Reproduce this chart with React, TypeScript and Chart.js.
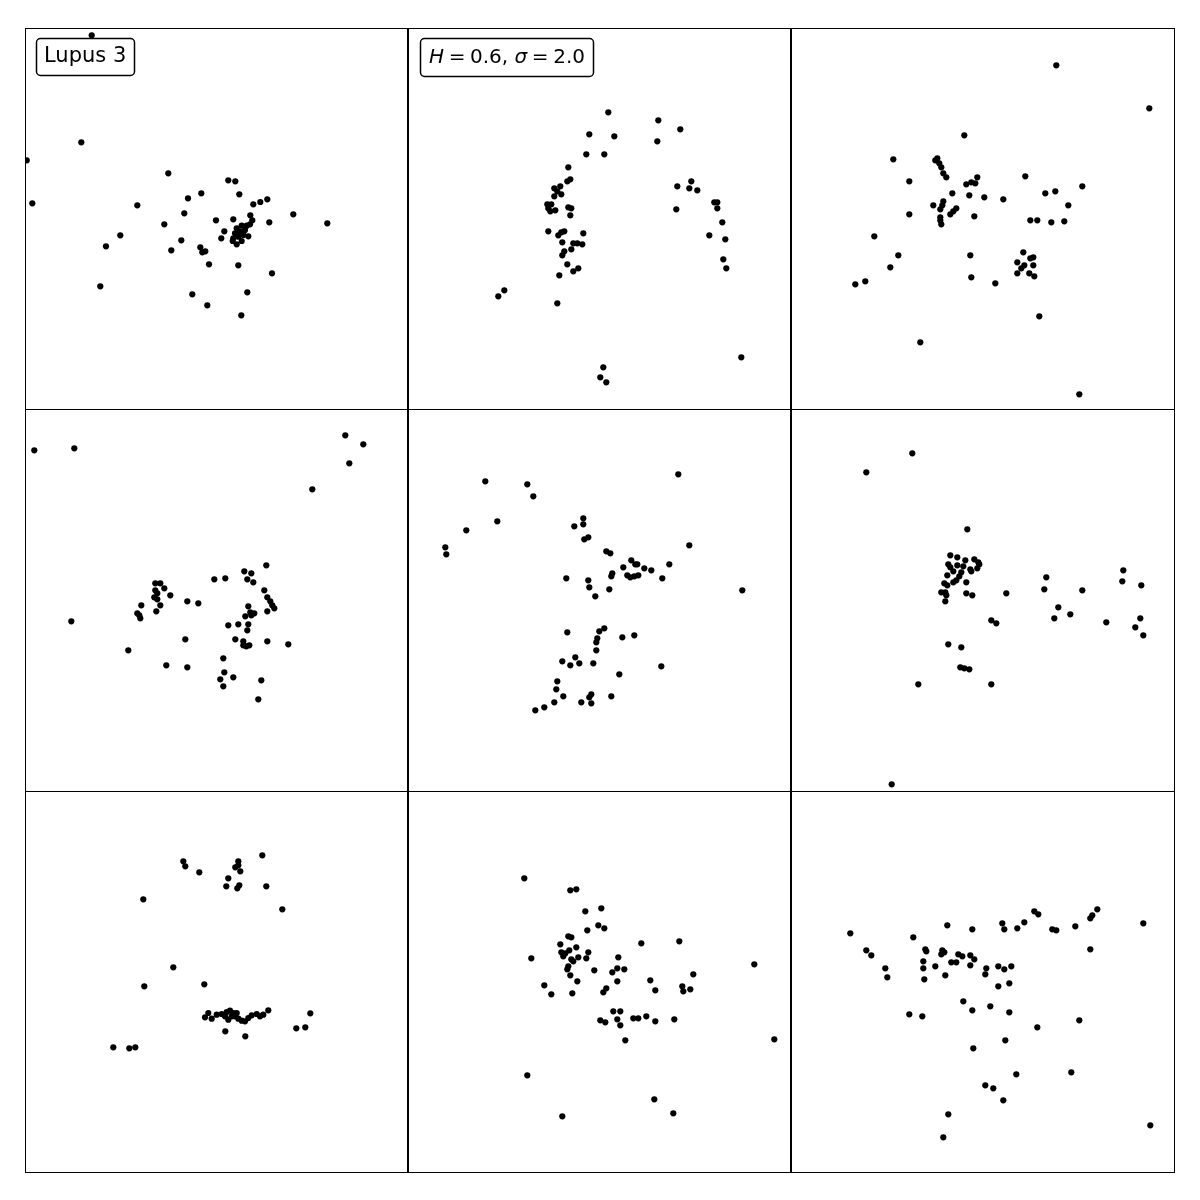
import React, { useEffect, useRef } from "react";
import { Chart, registerables } from "chart.js";

Chart.register(...registerables);

// Panel-local coordinates (x from panel left, y from panel top)
const lupus3: number[][] = [
  [66.7, 7.3], [56.3, 114.3], [1.7, 132.3], [7.3, 175.3], [143.3, 145.3], [203.3, 152.3], [210.3, 153.3],
  [176.3, 165.3], [214.3, 166.3], [163, 170.3], [242.3, 171.3], [235.3, 174], [228.3, 176.3], [112.3, 177.3],
  [159.3, 185.3], [268.3, 186.3], [225.3, 187.3], [191, 192.3], [208.3, 191.3], [227.3, 192.3], [244.3, 194.3],
  [302.3, 195.3], [139.3, 196.3], [199.3, 203.3], [95.3, 207.3], [196.3, 210.3], [156.3, 212.3], [223.3, 208.3],
  [81, 218.3], [175.3, 219.3], [180.3, 223.3], [177.3, 224.3], [146.3, 222.3], [184, 236.3], [213.3, 237.3],
  [247, 245.3], [75.3, 258.3], [167.3, 266.3], [222.3, 264.3], [182.3, 277.3], [216.3, 287.3],
  [211.7, 200.3], [216.7, 197.7], [221.7, 197.7], [225, 196.3], [210, 205.3], [215, 203.7], [220, 202],
  [208.3, 210.3], [213.3, 208.7], [218.3, 207], [207.7, 213], [211.7, 216.3], [216.7, 213],
];

const sim1: number[][] = [
  [200.3, 84.3], [250.3, 92.3], [272.3, 101.3], [181.3, 106.3], [206.3, 108.3], [249.3, 113.3], [178.3, 126.3],
  [196.3, 126.3], [160.3, 139.3], [162.3, 151.3], [159.3, 153.3], [269.3, 158.3], [283.3, 153.3], [281.3, 160.3],
  [289.3, 162.3], [146.3, 160.3], [152.3, 158.3], [149.3, 163.3], [153.3, 166.3], [146.3, 168.3], [139.3, 176.3],
  [143.3, 176.3], [140.3, 180.3], [142.3, 183.3], [147.3, 182.3], [160.3, 179.3], [163.3, 180.3], [162.3, 187.3],
  [268.3, 181.3], [306.3, 174.3], [309.3, 174.3], [309.3, 180.3], [314.3, 194.3], [301.3, 207.3], [317.3, 211.3],
  [140.3, 203.3], [150.3, 207.3], [153.3, 204.3], [156.3, 203.3], [175.3, 205.3], [154.3, 214.3], [165.3, 215.3],
  [169.3, 215.3], [174.3, 216.3], [163.3, 221.3], [156.3, 223.3], [154.3, 227.3], [159.3, 236.3], [165.3, 243.3],
  [170.3, 240.3], [151.3, 247.3], [315.3, 231.3], [318.3, 240.3], [96.3, 262.3], [90.3, 268.3], [149.3, 275.3],
  [333.3, 329.3], [195.3, 339.3], [192.3, 349.3], [198.3, 354.3],
];

const sim2: number[][] = [
  [265.3, 37.3], [358.3, 80.3], [173.3, 107.3], [102.3, 131.3], [144.3, 132.3], [146.3, 130.3], [148.3, 135.3],
  [150.3, 139.3], [152.3, 145.3], [155.3, 149.3], [186.3, 149.3], [234.3, 148.3], [118.3, 153.3], [175.3, 156.3],
  [180.3, 154.3], [184.3, 155.3], [291.3, 158.3], [161.3, 165.3], [178.3, 167.3], [254.3, 165.3], [264.3, 163.3],
  [193.3, 169.3], [212.3, 171.3], [152.3, 173.3], [142.3, 177.3], [151.3, 177.3], [149.3, 181.3], [165.3, 180.3],
  [162.3, 183.3], [159.3, 186.3], [277.3, 177.3], [118.3, 186.3], [183.3, 188.3], [149.3, 189.3], [149.3, 192.3],
  [150.3, 196.3], [239.3, 192.3], [246.3, 192.3], [260.3, 194.3], [273.3, 193.3], [83.3, 208.3], [232.3, 224.3],
  [239.3, 230.3], [242.3, 229.3], [107.3, 227.3], [179.3, 227.3], [226.3, 234.3], [233.3, 237.3], [230.3, 240.3],
  [242.3, 237.3], [99.3, 239.3], [226.3, 245.3], [238.3, 245.3], [243.3, 248.3], [180.3, 249.3], [74.3, 253.3],
  [64.3, 256.3], [204.3, 255.3], [248.3, 288.3], [129.3, 314.3], [288.3, 366.3],
];

const sim3: number[][] = [
  [9.3, 41.3], [49.3, 39.3], [320.3, 26.3], [338.3, 35.3], [324.3, 54.3], [287.3, 80.3], [241.3, 156.3],
  [219.3, 162.3], [226.3, 164.3], [222.3, 170.3], [228.3, 173.3], [189.3, 170.3], [200.3, 169.3], [130.3, 174.3],
  [135.3, 174.3], [139.3, 179.3], [130.3, 181.3], [132.3, 184.3], [145.3, 186.3], [129.3, 188.3], [132.3, 190.3],
  [239.3, 181.3], [242.3, 188.3], [245.3, 192.3], [247.3, 196.3], [249.3, 199.3], [162.3, 192.3], [173.3, 194.3],
  [116.3, 196.3], [135.3, 196.3], [223.3, 197.3], [112.3, 204.3], [114.3, 206.3], [115.3, 209.3], [131.3, 202.3],
  [225.3, 203.3], [229.3, 204.3], [226.3, 206.3], [242.3, 202.3], [220.3, 207.3], [46.3, 212.3], [203.3, 216.3],
  [213.3, 215.3], [223.3, 215.3], [222.3, 221.3], [160.3, 230.3], [210.3, 230.3], [218.3, 232.3], [218.3, 236.3],
  [221.3, 237.3], [224.3, 236.3], [242.3, 232.3], [263.3, 235.3], [103.3, 241.3], [198.3, 249.3], [141.3, 256.3],
  [162.3, 258.3], [199.3, 263.3], [208.3, 268.3], [195.3, 270.3], [236.3, 271.3], [198.3, 277.3], [233.3, 290.3],
];

const sim4: number[][] = [
  [77.3, 72.3], [119.3, 75.3], [125.3, 87.3], [270.3, 65.3], [89.3, 112.3], [58.3, 121.3], [37.3, 138.3],
  [38.3, 145.3], [175.3, 109.3], [175.3, 115.3], [166.3, 117.3], [176.3, 130.3], [180.3, 128.3], [281.3, 136.3],
  [198.3, 142.3], [202.3, 144.3], [223.3, 151.3], [227.3, 155.3], [229.3, 155.3], [215.3, 158.3], [236.3, 159.3],
  [243.3, 161.3], [261.3, 155.3], [204.3, 164.3], [203.3, 167.3], [219.3, 166.3], [222.3, 168.3], [226.3, 167.3],
  [230.3, 166.3], [254.3, 169.3], [158.3, 169.3], [180.3, 171.3], [181.3, 178.3], [201.3, 180.3], [187.3, 187.3],
  [334.3, 181.3], [159.3, 223.3], [191.3, 222.3], [196.3, 219.3], [189.3, 229.3], [188.3, 233.3], [188.3, 241.3],
  [214.3, 228.3], [226.3, 226.3], [167.3, 248.3], [154.3, 252.3], [162.3, 256.3], [171.3, 254.3], [185.3, 254.3],
  [253.3, 257.3], [211.3, 265.3], [149.3, 272.3], [148.3, 280.3], [155.3, 287.3], [183.3, 285.3], [181.3, 288.3],
  [203.3, 287.3], [146.3, 293.3], [173.3, 293.3], [183.3, 294.3], [136.3, 298.3], [127.3, 301.3],
];

const sim5: number[][] = [
  [121.3, 44.3], [75.3, 63.3], [176.3, 120.3], [100.7, 375.3],
  [159.3, 146.3], [166.3, 148.3], [174.3, 151.3], [183.3, 150.3], [187.3, 153.3], [188.3, 155.3], [186.3, 159.3],
  [157.3, 155.3], [166.3, 156.3], [159.3, 158.3], [172.3, 157.3], [179.3, 160.3], [180.3, 162.3], [162.3, 162.3],
  [170.3, 163.3], [156.3, 166.3], [168.3, 167.3], [165.3, 171.3], [162.3, 173.3], [175.3, 173.3], [153.3, 174.3],
  [156.3, 176.3], [150.3, 183.3], [154.3, 183.3], [155.3, 186.3], [175.3, 184.3], [181.3, 186.3], [154.3, 192.3],
  [215.3, 184.3], [255.3, 168.3], [253.3, 180.3], [291.3, 181.3], [332.3, 161.3], [331.3, 172.3], [350.3, 176.3],
  [267.3, 198.3], [263.3, 209.3], [279.3, 205.3], [200.3, 211.3], [205.3, 214.3], [315.3, 213.3], [349.3, 209.3],
  [344.3, 218.3], [352.3, 226.3], [157.3, 235.3], [170.3, 238.3], [169.3, 258.3], [173.3, 259.3], [178.3, 260.3],
  [127.3, 275.3], [200.3, 275.3],
];

const sim6: number[][] = [
  [158.3, 70.3], [160.3, 75.3], [174.3, 81.3], [213.3, 70.3], [210.3, 76.3], [213.3, 74.3], [215.3, 80.3],
  [237.3, 64.3], [203.3, 87.3], [201.3, 95.3], [212.3, 97.3], [214.3, 94.3], [241.3, 95.3], [118.3, 108.3],
  [257.3, 118.3], [148.3, 176.3], [119.3, 195.3], [179.3, 193.3], [243.3, 219.3], [285.3, 222.3], [271.3, 237.3],
  [280.3, 236.3], [200.3, 240.3], [220.3, 245.3], [88.3, 256.3], [104.3, 257.3], [110.3, 256.3],
  [183.3, 222], [180, 226.3], [186.7, 227.7], [191.7, 223.7], [196.7, 223], [201.7, 221], [205, 219.7],
  [208.3, 222], [211.7, 222], [200, 225.3], [203.3, 228.7], [206.7, 225.3], [210, 225.3], [213.3, 227.7],
  [216.7, 229.7], [220, 230.3], [223.3, 227], [226.7, 224.3], [231.7, 223], [235, 225.3], [238.3, 223.7],
];

const sim7: number[][] = [
  [116.3, 87.3], [162.3, 99.3], [168.3, 98.3], [177.3, 120.3], [193.3, 117.3], [190.3, 134.3], [196.3, 137.3],
  [179.3, 139.3], [160.3, 145.3], [163.3, 146.3], [152.3, 153.3], [168.3, 156.3], [153.3, 161.3], [157.3, 162.3],
  [161.3, 159.3], [155.3, 165.3], [170.3, 166.3], [180.3, 161.3], [178.3, 167.3], [163.3, 168.3], [165.3, 170.3],
  [123.3, 167.3], [210.3, 166.3], [233.3, 152.3], [271.3, 150.3], [160.3, 175.3], [159.3, 178.3], [186.3, 179.3],
  [204.3, 181.3], [209.3, 177.3], [216.3, 178.3], [162.3, 184.3], [169.3, 190.3], [209.3, 190.3], [242.3, 189.3],
  [285.3, 183.3], [346.3, 173.3], [136.3, 194.3], [143.3, 203.3], [164.3, 202.3], [195.3, 201.3], [198.3, 197.3],
  [247.3, 199.3], [274.3, 195.3], [275.3, 200.3], [282.3, 198.3], [205.3, 220.3], [212.3, 220.3], [192.3, 229.3],
  [197.3, 231.3], [209.3, 228.3], [212.3, 234.3], [225.3, 227.3], [230.3, 227.3], [238.3, 225.3], [247.3, 230.3],
  [266.3, 228.3], [217.3, 249.3], [366.3, 248.3], [119.3, 284.3], [246.3, 308.3], [265.3, 322.3], [154.3, 325.3],
];

const sim8: number[][] = [
  [59.3, 142.3], [122.3, 146.3], [156.3, 134.3], [181.3, 138.3], [211.3, 132.3], [213.3, 138.3], [226.3, 137.3],
  [233.3, 131.3], [243.3, 120.3], [247.3, 123.3], [261.3, 138.3], [265.3, 139.3], [284.3, 135.3], [299.3, 127.3],
  [301.3, 124.3], [306.3, 118.3], [352.3, 132.3], [299.3, 158.3], [75.3, 159.3], [80.3, 164.3], [134.3, 158.3],
  [135.3, 160.3], [151.3, 159.3], [153.3, 161.3], [150.3, 163.3], [167.3, 163.3], [171.3, 165.3], [179.3, 164.3],
  [183.3, 168.3], [160.3, 171.3], [165.3, 171.3], [132.3, 170.3], [144.3, 175.3], [179.3, 174.3], [94.3, 177.3],
  [132.3, 177.3], [195.3, 177.3], [207.3, 175.3], [213.3, 178.3], [220.3, 175.3], [194.3, 183.3], [154.3, 184.3],
  [96.3, 186.3], [133.3, 188.3], [207.3, 195.3], [218.3, 192.3], [172.3, 210.3], [199.3, 215.3], [181.3, 219.3],
  [218.3, 221.3], [118.3, 223.3], [131.3, 225.3], [288.3, 229.3], [246.3, 236.3], [214.3, 249.3], [182.3, 257.3],
  [225.3, 283.3], [280.3, 281.3], [194.3, 294.3], [202.3, 297.3], [212.3, 309.3], [157.3, 323.3], [152.3, 346.3],
  [359.3, 334.3],
];

const panelData = [lupus3, sim1, sim2, sim3, sim4, sim5, sim6, sim7, sim8];

const colLefts = [25, 408, 791];
const colRights = [407, 790, 1174];
const rowTops = [28, 409, 791];
const rowBottoms = [409, 791, 1172];

const FONT = '"DejaVu Sans", "Liberation Sans", sans-serif';

function roundRect(ctx: CanvasRenderingContext2D, x: number, y: number, w: number, h: number, r: number) {
  ctx.beginPath();
  ctx.moveTo(x + r, y);
  ctx.lineTo(x + w - r, y);
  ctx.arcTo(x + w, y, x + w, y + r, r);
  ctx.lineTo(x + w, y + h - r);
  ctx.arcTo(x + w, y + h, x + w - r, y + h, r);
  ctx.lineTo(x + r, y + h);
  ctx.arcTo(x, y + h, x, y + h - r, r);
  ctx.lineTo(x, y + r);
  ctx.arcTo(x, y, x + r, y, r);
  ctx.closePath();
}

function makeLabelPlugin(kind: number) {
  return {
    id: "labelBox" + kind,
    afterDraw(chart: any) {
      const ctx = chart.ctx as CanvasRenderingContext2D;
      const w = chart.width;
      const h = chart.height;
      ctx.save();
      ctx.strokeStyle = "#000";
      ctx.lineWidth = 1;
      ctx.strokeRect(0.5, 0.5, w - 1, h - 1);
      if (kind === 1) {
        ctx.fillStyle = "#fff";
        roundRect(ctx, 11.5, 10.5, 98, 37, 4);
        ctx.fill();
        ctx.lineWidth = 1.5;
        ctx.stroke();
        ctx.fillStyle = "#000";
        ctx.font = "21px " + FONT;
        ctx.textBaseline = "middle";
        ctx.textAlign = "left";
        ctx.fillText("Lupus 3", 19, 29);
      } else if (kind === 2) {
        ctx.fillStyle = "#fff";
        roundRect(ctx, 12.5, 10.5, 173, 38, 4);
        ctx.fill();
        ctx.lineWidth = 1.5;
        ctx.stroke();
        ctx.fillStyle = "#000";
        ctx.textBaseline = "middle";
        ctx.textAlign = "left";
        const ital = "italic 20px " + FONT;
        const reg = "20px " + FONT;
        const parts: [string, string][] = [
          ["H", ital], ["=", reg], ["0.6,", reg], ["σ", ital], ["=", reg], ["2.0", reg],
        ];
        const widths = parts.map(([t, f]) => { ctx.font = f; return ctx.measureText(t).width; });
        const total = widths.reduce((a, b) => a + b, 0);
        const target = 156;
        const gapW = [1, 1, 1.4, 1, 1];
        const gapSum = gapW.reduce((a, b) => a + b, 0);
        const unit = Math.max(0, (target - total) / gapSum);
        let x = 21;
        parts.forEach(([t, f], i) => {
          ctx.font = f;
          ctx.fillText(t, x, 30);
          x += widths[i] + (i < gapW.length ? gapW[i] * unit : 0);
        });
      }
      ctx.restore();
    },
  };
}

function Panel({ idx }: { idx: number }) {
  const ref = useRef<HTMLCanvasElement | null>(null);
  const col = idx % 3;
  const row = Math.floor(idx / 3);
  const left = colLefts[col];
  const top = rowTops[row];
  const width = colRights[col] - left + 1;
  const height = rowBottoms[row] - top + 1;

  useEffect(() => {
    if (!ref.current) return;
    const pts = panelData[idx].map(([x, y]) => ({ x, y }));
    const chart = new Chart(ref.current, {
      type: "scatter",
      data: {
        datasets: [
          {
            data: pts,
            backgroundColor: "#000",
            borderColor: "#000",
            pointRadius: 3.1,
            pointBorderWidth: 0,
            pointHoverRadius: 3.1,
            clip: 0,
          },
        ],
      },
      options: {
        responsive: false,
        animation: false,
        events: [],
        layout: { padding: 0, autoPadding: false },
        plugins: { legend: { display: false }, tooltip: { enabled: false } },
        scales: {
          x: { type: "linear", display: false, min: 0, max: width },
          y: { type: "linear", display: false, min: 0, max: height, reverse: true },
        },
      },
      plugins: [makeLabelPlugin(idx === 0 ? 1 : idx === 1 ? 2 : 0)],
    });
    return () => chart.destroy();
  }, [idx]);

  return (
    <canvas
      ref={ref}
      width={width}
      height={height}
      style={{ position: "absolute", left, top, width, height }}
    />
  );
}

export default function App() {
  return (
    <div style={{ position: "absolute", left: 0, top: 0, width: 1200, height: 1200, background: "#fff" }}>
      {panelData.map((_, i) => (
        <Panel key={i} idx={i} />
      ))}
    </div>
  );
}
